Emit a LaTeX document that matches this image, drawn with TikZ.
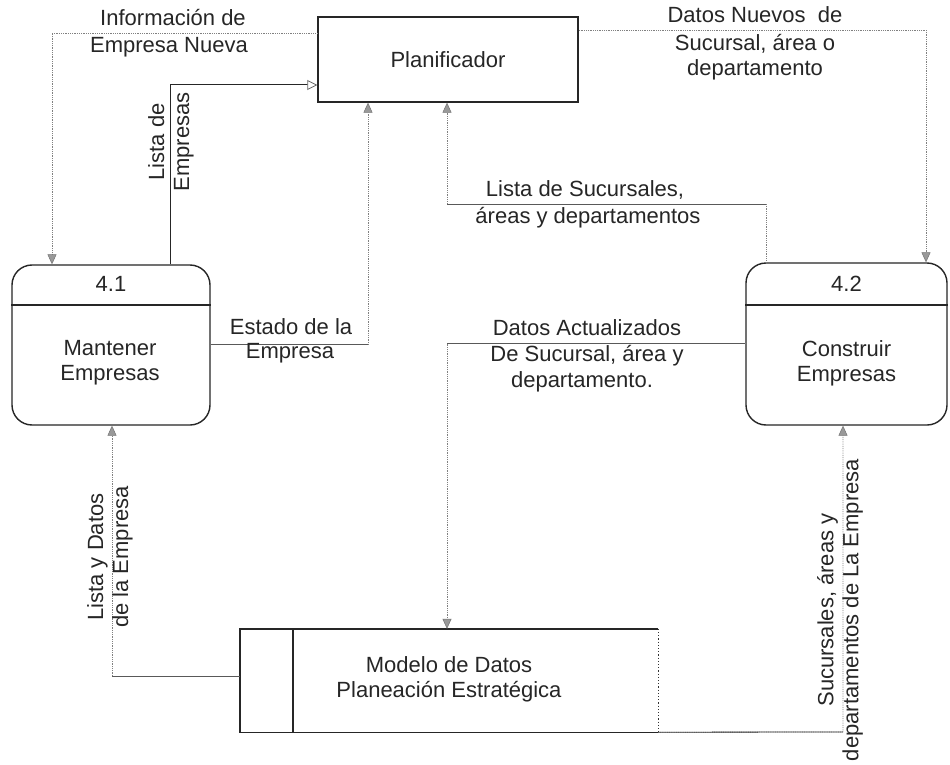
\documentclass[tikz,border=0pt]{standalone}
\usepackage{fontspec}
\setmainfont{Liberation Sans}
\usetikzlibrary{arrows.meta}
\begin{document}
\begin{tikzpicture}[x=1pt,y=-1pt,
  every node/.style={font=\fontsize{22}{25}\selectfont, text=black!85},
  box/.style={draw=black!85, line width=1.4pt},
  procbox/.style={box, rounded corners=20pt, minimum width=198pt, minimum height=160pt, inner sep=0pt},
  lbl/.style={align=center, inner sep=0pt},
  conn/.style={draw=black!50, line width=0.8pt, densely dotted},
  conns/.style={draw=black!65, line width=0.8pt},
  tip/.style={-{Triangle[length=10pt,width=9pt,fill=black!40,color=black!55,line width=0.5pt]}},
  opentip/.style={-{Triangle[length=10pt,width=10pt,fill=white,color=black!60,line width=0.8pt]}}
]
\useasboundingbox (0,0) rectangle (950,765);
\fill[white] (0,0) rectangle (950,765);

% external entity
\node[box, minimum width=260pt, minimum height=85pt, inner sep=0pt] (plan) at (448,59.5) {Planificador};

% processes
\node[procbox] (p41) at (111,345) {};
\coordinate (d41) at (0,305);
\draw[box] (p41.west |- d41) -- (p41.east |- d41);
\node (n41) at (111,284) {4.1};
\node[lbl] (t41) at (110,363) {Mantener\\Empresas};

\node[procbox, minimum width=201pt, minimum height=162pt] (p42) at (846.5,344) {};
\draw[box] (p42.west |- d41) -- (p42.east |- d41);
\node (n42) at (846.5,284) {4.2};
\node[lbl] (t42) at (846.5,363) {Construir\\Empresas};

% data store
\node[minimum width=418pt, minimum height=103pt, inner sep=0pt] (store) at (449,680.5) {};
\draw[box] (store.north east) -- (store.north west) -- (store.south west) -- (store.south east);
\coordinate (sd) at (293,0);
\draw[box] (store.north -| sd) -- (store.south -| sd);
\draw[black!80, line width=1.2pt, dotted] (store.north east) -- (store.south east);
\node[lbl] (tstore) at (449,679) {Modelo de Datos\\Planeación Estratégica};

% Información de Empresa Nueva
\coordinate (a1) at (52,33);
\draw[conn, tip] (plan.west |- a1) -- (a1) -- (a1 |- p41.north);
\node[lbl] (l1a) at (173,18) {Información de};
\node[lbl] (l1b) at (169,47) {Empresa Nueva};

% Lista de Empresas
\coordinate (a2) at (170,85);
\draw[draw=black!85, line width=1pt, opentip] (a2 |- p41.north) -- (a2) -- (a2 -| plan.west);
\node[lbl, rotate=90] (l2) at (171,142) {Lista de\\Empresas};

% Estado de la Empresa
\coordinate (a3) at (368,344);
\draw[conn, tip] (a3 -| p41.east) -- (a3) -- (a3 |- plan.south);
\draw[conns] (a3 -| p41.east) -- (a3);
\node[lbl] (l3a) at (291,327) {Estado de la};
\node[lbl] (l3b) at (290,353) {Empresa};

% Lista de Sucursales, áreas y departamentos
\coordinate (a4) at (766,204);
\coordinate (a4b) at (447,204);
\draw[conn, tip] (a4 |- p42.north) -- (a4) -- (a4b) -- (a4b |- plan.south);
\draw[conns] (a4) -- (a4b);
\node[lbl] (l4a) at (585,190) {Lista de Sucursales,};
\node[lbl] (l4b) at (588,218) {áreas y departamentos};

% Datos Nuevos de Sucursal, área o departamento
\coordinate (a5) at (926,30);
\draw[conn, tip] (plan.east |- a5) -- (a5) -- (a5 |- p42.north);
\node[lbl] (l5a) at (755,15) {Datos Nuevos~ de};
\node[lbl] (l5b) at (755,44) {Sucursal, área o};
\node[lbl] (l5c) at (755,70) {departamento};

% Datos Actualizados De Sucursal, área y departamento
\coordinate (a6) at (447,343);
\draw[conn, tip] (a6 -| p42.west) -- (a6) -- (a6 |- store.north);
\draw[conns] (a6 -| p42.west) -- (a6);
\node[lbl] (l6a) at (587,328) {Datos Actualizados};
\node[lbl] (l6b) at (587,356) {De Sucursal, área y};
\node[lbl] (l6c) at (582,382) {departamento.};

% Lista y Datos de la Empresa
\coordinate (a7) at (112,676);
\draw[conn, tip] (a7 -| store.west) -- (a7) -- (a7 |- p41.south);
\draw[conns] (a7 -| store.west) -- (a7);
\node[lbl, rotate=90] (l7) at (110,557) {Lista y Datos\\de la Empresa};

% Sucursales, áreas y departamentos de La Empresa
\coordinate (a8) at (843,732);
\draw[conn, tip] (store.south east) -- (a8) -- (a8 |- p42.south);
\draw[conns, draw=black!80] (store.south east) -- (a8);
\node[lbl, rotate=90] (l8) at (840,610) {Sucursales, áreas y\\departamentos de La Empresa};
\end{tikzpicture}
\end{document}
